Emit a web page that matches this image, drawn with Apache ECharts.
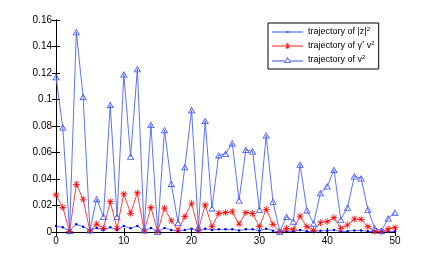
<!DOCTYPE html>
<html><head><meta charset="utf-8">
<script src="https://cdn.jsdelivr.net/npm/echarts@6/dist/echarts.min.js"></script>
<style>html,body{margin:0;padding:0;background:#fff}#c{width:436px;height:262px}</style>
</head><body><div id="c"></div>
<script>
const steps = [0,1,2,3,4,5,6,7,8,9,10,11,12,13,14,15,16,17,18,19,20,21,22,23,24,25,26,27,28,29,30,31,32,33,34,35,36,37,38,39,40,41,42,43,44,45,46,47,48,49,50];
const zAbs2 = [0.0045,0.0035,0.001,0.0058,0.004,0.0012,0.003,0.0015,0.0035,0.0015,0.0045,0.0028,0.0045,0.001,0.003,0.0003,0.003,0.0015,0.0008,0.0015,0.0025,0.0008,0.0025,0.0015,0.002,0.002,0.002,0.0012,0.002,0.002,0.001,0.0025,0.001,0.0001,0.0005,0.0005,0.0015,0.0005,0.0003,0.001,0.001,0.0015,0.0003,0.0006,0.0012,0.0012,0.0005,0.0001,0.0001,0.0003,0.0005];
const gammaV2 = [0.028,0.0186,0.0005,0.036,0.0247,0.0008,0.006,0.0028,0.0229,0.0028,0.0287,0.0141,0.0295,0.0008,0.0186,0.0003,0.018,0.0085,0.0015,0.0116,0.0217,0.0015,0.0204,0.004,0.0141,0.0146,0.0153,0.006,0.0146,0.014,0.004,0.0171,0.0058,0.0003,0.0028,0.002,0.012,0.004,0.0013,0.007,0.0078,0.0108,0.0028,0.0053,0.0098,0.0096,0.004,0.0005,0.0002,0.0023,0.0033];
const v2 = [0.117,0.079,0.001,0.151,0.102,0.0015,0.025,0.0115,0.096,0.0115,0.119,0.057,0.123,0.0015,0.081,0.0003,0.077,0.0365,0.007,0.049,0.092,0.003,0.084,0.018,0.058,0.059,0.067,0.024,0.062,0.061,0.017,0.073,0.023,0.0003,0.0115,0.008,0.051,0.0165,0.0065,0.0295,0.0345,0.047,0.0095,0.0185,0.042,0.0405,0.017,0.003,0.001,0.0103,0.0148];
const xTicks = [0,10,20,30,40,50];
const yTicks = [0,0.02,0.04,0.06,0.08,0.1,0.12,0.14,0.16];
const seriesNames = ['z2','gv2','v2'];
const legendLabels = {
  z2: 'trajectory of |z|{s|2}',
  gv2: 'trajectory of γ{s|*} v{s|2}',
  v2: 'trajectory of v{s|2}'
};

const pair = arr => steps.map((x,i)=>[x, arr[i]]);
const asterisk = 'path://M-1,-10L1,-10L1,10L-1,10Z M-10,-1L10,-1L10,1L-10,1Z M-7.7,-6.3L-6.3,-7.7L7.7,6.3L6.3,7.7Z M6.3,-7.7L7.7,-6.3L-6.3,7.7L-7.7,6.3Z';
const hollowTri = 'path://M0,-10L8.66,5L-8.66,5Z M0,-6.4L-5.54,3.2L5.54,3.2Z';
// legend icons (line + marker)
const iconDot = 'path://M0,2.6L31,2.6L31,3.4L0,3.4Z M14.5,2L16.5,2L16.5,4L14.5,4Z M0,0L0.01,0L0.01,0.01Z M0,6L0.01,6L0.01,5.99Z';
const iconStar = 'path://M0,2.6L31,2.6L31,3.4L0,3.4Z M15.1,0L15.9,0L15.9,6L15.1,6Z M12.5,2.6L18.5,2.6L18.5,3.4L12.5,3.4Z M13.2,0.7L13.8,0.2L17.8,5.3L17.2,5.8Z M17.2,0.2L17.8,0.7L13.8,5.8L13.2,5.3Z';
const iconTri = 'path://M0,3.6L12.9,3.6L12.9,4.4L0,4.4Z M18.1,3.6L31,3.6L31,4.4L18.1,4.4Z M15.5,0L19,6L12,6Z M15.5,1.6L13.4,5.2L17.6,5.2Z';
const font = '"Liberation Sans", Arial, Helvetica, sans-serif';
const blue = '#4a62ff';

const chart = echarts.init(document.getElementById('c'), null, {renderer:'canvas'});
const axisCommon = {
  axisLine:{show:true, lineStyle:{color:'#000', width:1}},
  axisTick:{show:true, inside:true, length:4, lineStyle:{color:'#000'}},
  splitLine:{show:false}
};
chart.setOption({
  animation:false,
  backgroundColor:'#fff',
  grid:{left:56, right:41, top:20, bottom:30},
  xAxis:[
    Object.assign({type:'value', min:xTicks[0], max:xTicks[xTicks.length-1], interval:10, position:'bottom',
      axisLabel:{color:'#000', fontSize:10, fontFamily:font, margin:4}}, axisCommon),
    Object.assign({type:'value', min:xTicks[0], max:xTicks[xTicks.length-1], interval:10, position:'top',
      axisLabel:{show:false}}, axisCommon)
  ],
  yAxis:[
    Object.assign({type:'value', min:yTicks[0], max:yTicks[yTicks.length-1], interval:0.02, position:'left',
      axisLabel:{color:'#000', fontSize:10, fontFamily:font, margin:4}}, axisCommon),
    Object.assign({type:'value', min:yTicks[0], max:yTicks[yTicks.length-1], interval:0.02, position:'right',
      axisLabel:{show:false}}, axisCommon)
  ],
  legend:{
    data:[
      {name:'z2', icon:iconDot, itemStyle:{color:'#3a55ff'}},
      {name:'gv2', icon:iconStar, itemStyle:{color:'#ff2020'}},
      {name:'v2', icon:iconTri, itemStyle:{color:'#3a55ff'}}
    ],
    orient:'vertical', left:268, top:23,
    backgroundColor:'#fff', borderColor:'#000', borderWidth:1, borderRadius:0,
    padding:[3,4,3,4], itemGap:2, itemWidth:31, itemHeight:9,
    formatter: n => legendLabels[n],
    textStyle:{color:'#000', fontSize:9, fontFamily:font, lineHeight:12,
      rich:{s:{fontSize:6, fontFamily:font, verticalAlign:'top', lineHeight:12, color:'#000'}}}
  },
  series:[
    {name:'z2', type:'line', data:pair(zAbs2), symbol:'circle', symbolSize:2.5,
     lineStyle:{color:blue, width:0.9}, itemStyle:{color:'#0000ff'}, z:3},
    {name:'gv2', type:'line', data:pair(gammaV2), symbol:asterisk, symbolSize:7,
     lineStyle:{color:'#ff2a2a', width:0.9}, itemStyle:{color:'#ff0000'}, z:4},
    {name:'v2', type:'line', data:pair(v2), symbol:hollowTri, symbolSize:[7.5,6.5],
     lineStyle:{color:blue, width:0.9}, itemStyle:{color:'#3a55ff'}, z:5}
  ]
});
</script></body></html>
